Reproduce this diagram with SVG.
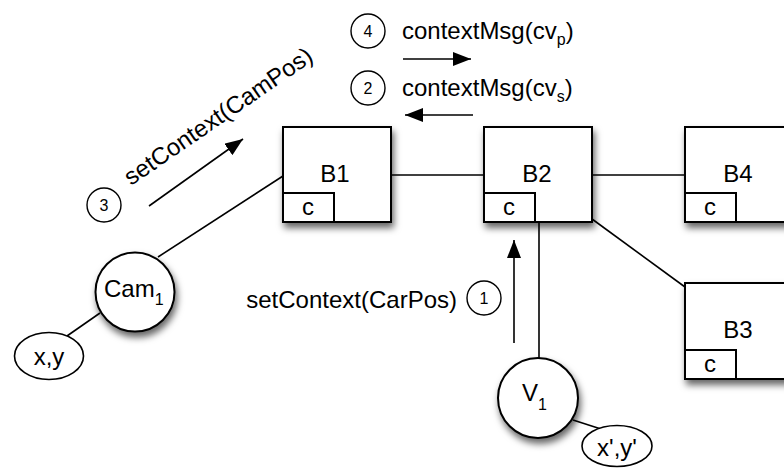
<svg xmlns="http://www.w3.org/2000/svg" width="784" height="468" viewBox="0 0 784 468">
  <style>
    text { font-family: "Liberation Sans", Arial, Helvetica, sans-serif; fill: #000; }
    .lbl { font-size: 24px; }
    .sub { font-size: 16px; }
    .num { font-size: 16px; text-anchor: middle; }
    .mid { text-anchor: middle; }
    .box { fill: #fff; stroke: #000; stroke-width: 2; }
    .cbox { fill: #fff; stroke: #000; stroke-width: 2; }
    .node { fill: #fff; stroke: #000; stroke-width: 2; }
    .tag { fill: #fff; stroke: #000; stroke-width: 1.6; }
    .edge { fill: none; stroke: #000; stroke-width: 1.6; }
    .msg { fill: none; stroke: #000; stroke-width: 1.6; marker-end: url(#head); }
    .step { fill: #fff; stroke: #000; stroke-width: 1.4; }
  </style>
  <defs>
    <filter id="shadow" x="-20%" y="-20%" width="150%" height="150%">
      <feDropShadow dx="2" dy="5" stdDeviation="3.5" flood-color="#000" flood-opacity="0.6"/>
    </filter>
    <marker id="head" markerUnits="userSpaceOnUse" markerWidth="20" markerHeight="14" refX="18" refY="7" orient="auto">
      <path d="M0,0 L18,7 L0,14 Z" fill="#000"/>
    </marker>
  </defs>

  <rect width="784" height="468" fill="#fff"/>

  <!-- connectors -->
  <g id="connectors">
    <line class="edge" x1="391" y1="175" x2="484" y2="175"/>
    <line class="edge" x1="592" y1="175" x2="685" y2="175"/>
    <line class="edge" x1="592" y1="219" x2="685" y2="287"/>
    <line class="edge" x1="539" y1="222" x2="539" y2="358"/>
    <line class="edge" x1="158" y1="257" x2="283" y2="176"/>
    <line class="edge" x1="100" y1="313" x2="67" y2="336"/>
    <line class="edge" x1="573" y1="420" x2="601" y2="429"/>
  </g>

  <!-- message arrows -->
  <g id="messages">
    <line class="msg" x1="403" y1="59" x2="471" y2="59"/>
    <line class="msg" x1="473" y1="115" x2="405" y2="115"/>
    <line class="msg" x1="149" y1="206" x2="243" y2="139"/>
    <line class="msg" x1="514" y1="343" x2="514" y2="240"/>
  </g>

  <!-- step markers and message labels -->
  <g id="step4">
    <circle class="step" cx="368" cy="31" r="17"/>
    <text class="num" x="368" y="37">4</text>
    <text class="lbl" x="402" y="39">contextMsg(cv<tspan class="sub" dy="6">p</tspan><tspan dy="-6">)</tspan></text>
  </g>
  <g id="step2">
    <circle class="step" cx="368" cy="88" r="17"/>
    <text class="num" x="368" y="94">2</text>
    <text class="lbl" x="402" y="96">contextMsg(cv<tspan class="sub" dy="6">s</tspan><tspan dy="-6">)</tspan></text>
  </g>
  <g id="step3">
    <circle class="step" cx="104" cy="205" r="17"/>
    <text class="num" x="104" y="211">3</text>
    <text class="lbl" transform="translate(131,186) rotate(-34.5)">setContext(CamPos)</text>
  </g>
  <g id="step1">
    <circle class="step" cx="484" cy="298" r="17"/>
    <text class="num" x="484" y="304">1</text>
    <text class="lbl" x="457" y="308" text-anchor="end">setContext(CarPos)</text>
  </g>

  <!-- brokers -->
  <g id="B1">
    <rect class="box" x="283" y="127" width="108" height="95" filter="url(#shadow)"/>
    <rect class="cbox" x="283" y="193" width="51" height="29"/>
    <text class="lbl mid" x="335" y="182">B1</text>
    <text class="lbl mid" x="308" y="215">c</text>
  </g>
  <g id="B2">
    <rect class="box" x="484" y="127" width="108" height="95" filter="url(#shadow)"/>
    <rect class="cbox" x="484" y="193" width="51" height="29"/>
    <text class="lbl mid" x="537" y="182">B2</text>
    <text class="lbl mid" x="509" y="215">c</text>
  </g>
  <g id="B4">
    <rect class="box" x="685" y="127" width="108" height="95" filter="url(#shadow)"/>
    <rect class="cbox" x="685" y="193" width="51" height="29"/>
    <text class="lbl mid" x="738" y="182">B4</text>
    <text class="lbl mid" x="710" y="215">c</text>
  </g>
  <g id="B3">
    <rect class="box" x="685" y="283" width="108" height="96" filter="url(#shadow)"/>
    <rect class="cbox" x="685" y="350" width="51" height="29"/>
    <text class="lbl mid" x="738" y="338">B3</text>
    <text class="lbl mid" x="710" y="372">c</text>
  </g>

  <!-- sensors -->
  <g id="Cam1">
    <circle class="node" cx="135" cy="292" r="39.5" filter="url(#shadow)"/>
    <text class="lbl" x="104" y="297">Cam<tspan class="sub" dy="8">1</tspan></text>
  </g>
  <g id="xy">
    <ellipse class="tag" cx="49" cy="356" rx="34.5" ry="23.5"/>
    <text class="lbl mid" x="49" y="365">x,y</text>
  </g>
  <g id="V1">
    <circle class="node" cx="538" cy="398" r="40" filter="url(#shadow)"/>
    <text class="lbl" x="522" y="401">V<tspan class="sub" dy="9">1</tspan></text>
  </g>
  <g id="xy2">
    <ellipse class="tag" cx="617" cy="446" rx="35" ry="20.5"/>
    <text class="lbl mid" x="617" y="456">x',y'</text>
  </g>
</svg>
